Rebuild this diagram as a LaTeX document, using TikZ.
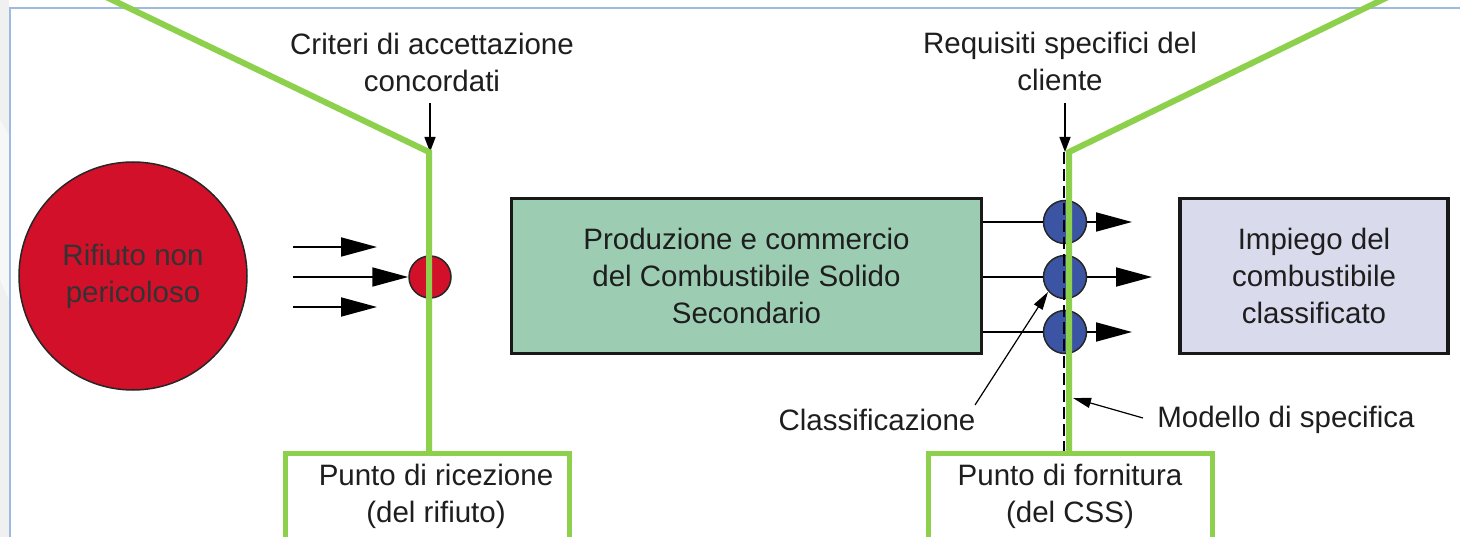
\documentclass[tikz,border=0pt]{standalone}
\usepackage{fontspec}
\setmainfont{Liberation Sans}
\usetikzlibrary{arrows.meta}
\definecolor{cred}{HTML}{D2102A}
\definecolor{cgreen}{HTML}{8DD04C}
\definecolor{cmint}{HTML}{9CCDB3}
\definecolor{clav}{HTML}{D9DAEC}
\definecolor{cblue}{HTML}{3B55A4}
\definecolor{cframe}{HTML}{9DBAE0}
\definecolor{ctext}{HTML}{1E1E1E}
\begin{document}
\begin{tikzpicture}[x=1pt,y=-1pt,
  txt/.style={text=ctext,font=\fontsize{29.5}{37}\selectfont,align=center,inner sep=0pt},
  bigarrow/.style={line width=1.8pt,-{Triangle[length=36pt,width=19pt]}},
  smallarrow/.style={line width=1.4pt,-{Triangle[length=15pt,width=11pt]}},
  thinarrow/.style={line width=1.2pt,-{Triangle[length=18pt,width=10pt]}},
  greenline/.style={cgreen,line width=6pt},
  greenbox/.style={draw=cgreen,line width=5pt,fill=white,minimum width=284pt,minimum height=120pt,anchor=north,inner sep=0pt},
  bluedot/.style={circle,fill=cblue,draw=black!85,line width=1.5pt,minimum size=43pt,inner sep=0pt}]
\useasboundingbox (0,0) rectangle (1460,537);
\fill[white] (0,0) rectangle (1460,537);
\fill[black!6] (0,0) rectangle (9,537);
\fill[black!3] (0,120) -- (9,135) -- (9,300) -- (0,280) -- cycle;
% frame
\draw[cframe,line width=2pt] (1460,8) -- (10,8) -- (10,537);

% waste circle
\node[circle,fill=cred,draw=black!85,line width=1.5pt,minimum size=228pt,inner sep=0pt,
      txt,text=black!80] (waste) at (133,276) {Rifiuto non\\pericoloso};
\node[circle,fill=cred,draw=black!85,line width=1.5pt,minimum size=42pt,inner sep=0pt] (rec) at (430,277) {};

\coordinate (a1s) at (293,247); \coordinate (a1e) at (377,247);
\coordinate (a2s) at (293,277);
\coordinate (a3s) at (293,307); \coordinate (a3e) at (377,307);
\draw[bigarrow] (a1s) -- (a1e);
\draw[bigarrow] (a2s) -- (rec.west);
\draw[bigarrow] (a3s) -- (a3e);

% criteria
\node[txt] (crit) at (432,62) {Criteri di accettazione\\concordati};
\coordinate (c1s) at (430,103); \coordinate (c1e) at (430,152);
\draw[smallarrow] (c1s) -- (c1e);

% production box
\node[draw=black!90,line width=3.5pt,fill=cmint,minimum width=470pt,minimum height=155pt,txt,inner sep=0pt] (prod) at (746.5,276)
  {Produzione e commercio\\del Combustibile Solido\\Secondario};

% use box
\node[draw=black!90,line width=3.5pt,fill=clav,minimum width=268pt,minimum height=155pt,txt,inner sep=0pt] (use) at (1314,276)
  {Impiego del\\combustibile\\classificato};

% blue dots
\node[bluedot] (d1) at (1065,222) {};
\node[bluedot] (d2) at (1065,277) {};
\node[bluedot] (d3) at (1065,332) {};
\draw[line width=1.4pt] (prod.east |- d1) -- (d1.west);
\draw[line width=1.4pt] (prod.east |- d2) -- (d2.west);
\draw[line width=1.4pt] (prod.east |- d3) -- (d3.west);
\coordinate (e1) at (1132,222);
\coordinate (e2) at (1152,277);
\coordinate (e3) at (1132,332);
\draw[bigarrow] (d1.east) -- (e1);
\draw[bigarrow] (d2.east) -- (e2);
\draw[bigarrow] (d3.east) -- (e3);

% requirements
\node[txt] (req) at (1060,61) {Requisiti specifici del\\cliente};
\coordinate (r1s) at (1065,103); \coordinate (r1e) at (1065,152);
\draw[smallarrow] (r1s) -- (r1e);

% dashed spec line
\coordinate (dtop) at (1064,152); \coordinate (dbot) at (1064,452);
\draw[line width=2.2pt,dash pattern=on 12pt off 5pt] (dtop) -- (dbot);

% labels below
\node[txt] (cls) at (877,420) {Classificazione};
\coordinate (clsa) at (975,405); \coordinate (clsb) at (1048,292);
\draw[thinarrow] (clsa) -- (clsb);
\node[txt] (mod) at (1286,420) {Modello di specifica};
\coordinate (moda) at (1143,418); \coordinate (modb) at (1073,398);
\draw[thinarrow] (moda) -- (modb);

% green boxes
\node[greenbox] (rbox) at (427.5,451) {};
\node[txt,anchor=north] (rtxt) at (436,464) {Punto di ricezione\\(del rifiuto)};
\node[greenbox] (sbox) at (1070.5,451) {};
\node[txt,anchor=north] (stxt) at (1070,464) {Punto di fornitura\\(del CSS)};

% green lines
\coordinate (gl) at (104,-4); \coordinate (gk1) at (429,152);
\draw[greenline,line join=miter] (gl) -- (gk1) -- (gk1 |- rbox.north);
\coordinate (gr) at (1390,-4); \coordinate (gk2) at (1069,152);
\draw[greenline,line join=miter] (gr) -- (gk2) -- (gk2 |- sbox.north);
\end{tikzpicture}
\end{document}
